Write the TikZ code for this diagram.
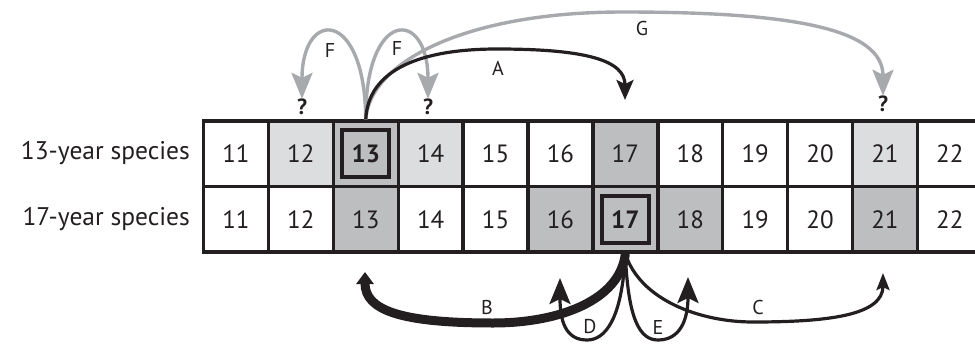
\documentclass[tikz,border=0pt]{standalone}
\usepackage{fontspec}
\setmainfont{PT Sans}
\usetikzlibrary{arrows.meta}
\definecolor{ink}{HTML}{231F20}
\definecolor{shadeDark}{HTML}{BCBEC0}
\definecolor{shadeLight}{HTML}{DCDDDE}
\definecolor{arcGray}{HTML}{A7A9AC}

\begin{document}
\begin{tikzpicture}[x=1pt,y=-1pt,
  cell/.style={draw=ink, line width=3.4pt, minimum width=64.9pt, minimum height=65.5pt,
    inner sep=0pt, font=\fontsize{25}{25}\selectfont, text=ink},
  markbox/.style={draw=ink, line width=3.6pt, minimum width=47pt, minimum height=47pt,
    inner sep=0pt, font=\bfseries\fontsize{25}{25}\selectfont, text=ink},
  rowlabel/.style={anchor=east, inner sep=0pt, font=\fontsize{25.5}{25.5}\selectfont, text=ink},
  arclabel/.style={inner sep=0pt, font=\fontsize{20}{20}\selectfont, text=ink},
  query/.style={inner sep=0pt, font=\bfseries\fontsize{22}{22}\selectfont, text=ink},
  grayarc/.style={draw=arcGray, line width=3.4pt,
    -{Stealth[length=26pt,width=21pt,inset=5pt]}},
  blackarc/.style={draw=ink, line width=3.2pt},
]
\useasboundingbox (0,0) rectangle (975,343);
\clip (0,0) rectangle (975,343);

% row captions
\node[rowlabel] (lab13) at (190,153) {13-year species};
\node[rowlabel] (lab17) at (190,219) {17-year species};

% top row: 13-year cycle
\foreach \i/\n/\f in {0/11/white,1/12/shadeLight,2/13/shadeDark,3/14/shadeLight,
  4/15/white,5/16/white,6/17/shadeDark,7/18/white,8/19/white,9/20/white,
  10/21/shadeLight,11/22/white}{
  \node[cell, fill=\f] (t\n) at ({203.5+64.9*(\i+0.5)},153.75) {\ifnum\n=13\else\n\fi};
}
% bottom row: 17-year cycle
\foreach \i/\n/\f in {0/11/white,1/12/white,2/13/shadeDark,3/14/white,
  4/15/white,5/16/shadeDark,6/17/shadeDark,7/18/shadeDark,8/19/white,9/20/white,
  10/21/shadeDark,11/22/white}{
  \node[cell, fill=\f] (b\n) at ({203.5+64.9*(\i+0.5)},219.25) {\ifnum\n=17\else\n\fi};
}
\node[markbox] (t13box) at (t13.center) {13};
\node[markbox] (b17box) at (b17.center) {17};

% unknown targets above the top row
\node[query] (q12) at (302,107) {?};
\node[query] (q14) at (428,107) {?};
\node[query] (q21) at (883,104) {?};
\coordinate (a17) at (625,100);

% arcs from the 13-year emergence
\coordinate (s13) at (t13.north);
\draw[grayarc] (s13) .. controls (365,8) and (302,8) .. (q12.north);
\draw[grayarc] (s13) .. controls (365,8) and (428,8) .. (q14.north);
\draw[grayarc] (s13) .. controls (370,62) and (465,12) .. (623,12)
  .. controls (790,12) and (883,28) .. (q21.north);
\draw[blackarc, -{Stealth[length=20pt,width=17pt,inset=4pt]}]
  (s13) .. controls (368,70) and (420,49) .. (497,49)
  .. controls (585,49) and (625,60) .. (a17);

\node[arclabel] (lF1) at (330,50) {F};
\node[arclabel] (lF2) at (397,48) {F};
\node[arclabel] (lA) at (498,68) {A};
\node[arclabel] (lG) at (642,28) {G};

% arcs from the 17-year emergence
\coordinate (s17) at (b17.south);
\coordinate (tB) at (365,272);
\coordinate (tD) at (560,278);
\coordinate (tE) at (688,277);
\coordinate (tC) at (883,273);
\draw[blackarc, line width=9pt, -{Triangle[length=12pt,width=17pt]}]
  (s17) .. controls (620,300) and (560,323) .. (493,323)
  .. controls (400,323) and (365,310) .. (tB);
\draw[blackarc, -{Stealth[length=26pt,width=21pt,inset=5pt]}]
  (s17) .. controls (622,320) and (605,340) .. (587,340)
  .. controls (565,340) and (560,320) .. (tD);
\draw[blackarc, -{Stealth[length=26pt,width=21pt,inset=5pt]}]
  (s17) .. controls (628,320) and (640,340) .. (658,340)
  .. controls (680,340) and (688,320) .. (tE);
\draw[blackarc, -{Stealth[length=17pt,width=13pt,inset=3pt]}]
  (s17) .. controls (640,300) and (700,322) .. (753,322)
  .. controls (830,322) and (883,315) .. (tC);

\node[arclabel] (lB) at (487,307) {B};
\node[arclabel] (lD) at (590,327) {D};
\node[arclabel] (lE) at (658,327) {E};
\node[arclabel] (lC) at (758,307) {C};
\end{tikzpicture}
\end{document}
